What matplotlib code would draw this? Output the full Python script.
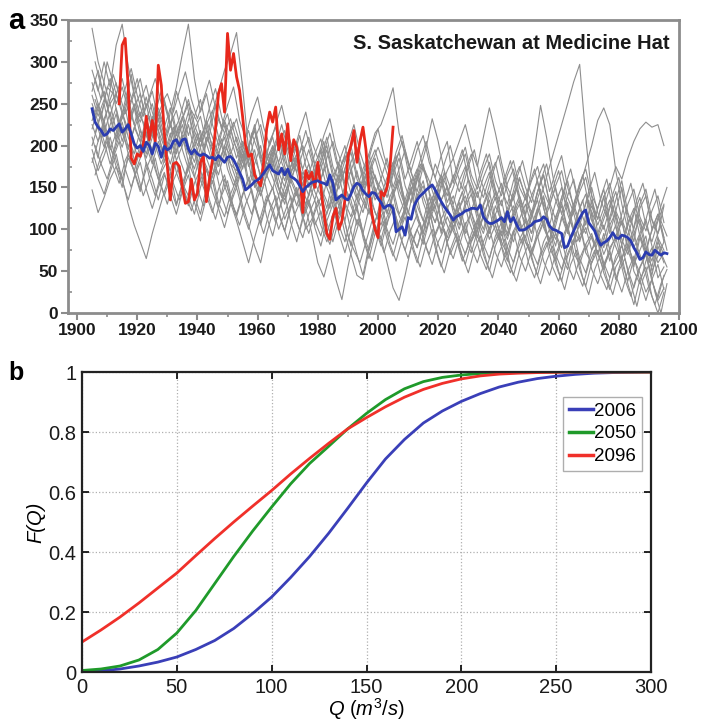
import numpy as np
import matplotlib
matplotlib.use("Agg")
import matplotlib.pyplot as plt
from matplotlib.ticker import MultipleLocator

plt.rcParams['font.family'] = ['Liberation Sans', 'DejaVu Sans']
plt.rcParams['mathtext.fontset'] = 'custom'
plt.rcParams['mathtext.rm'] = 'Liberation Sans'
plt.rcParams['mathtext.it'] = 'Liberation Sans:italic'

# ---------------- Panel a data ----------------
obs_years = list(range(1914, 2006))
obs_flow = [250, 320, 328, 270, 185, 178, 190, 187, 200, 235,
            207, 230, 205, 296, 272, 215, 175, 135, 178, 180,
            175, 150, 131, 133, 160, 135, 143, 180, 187, 133,
            160, 183, 220, 262, 274, 240, 334, 290, 310, 282,
            266, 235, 200, 187, 190, 165, 158, 152, 180, 220,
            240, 228, 246, 195, 214, 190, 226, 182, 207, 198,
            168, 120, 170, 160, 168, 150, 180, 150, 120, 95,
            88, 115, 125, 100, 110, 135, 187, 200, 218, 180,
            205, 222, 195, 145, 118, 100, 90, 145, 140, 150,
            175, 222]

mean_years = list(range(1905, 2097))
mean_flow = [244, 228, 222, 218, 212, 214, 220, 218, 222, 226,
             216, 220, 225, 214, 202, 197, 200, 193, 204, 200,
             190, 203, 199, 186, 199, 195, 197, 205, 207, 200,
             207, 208, 196, 190, 195, 190, 188, 190, 188, 185,
             186, 183, 188, 184, 180, 186, 187, 183, 176, 168,
             160, 147, 150, 153, 157, 159, 162, 167, 172, 177,
             170, 168, 166, 173, 165, 172, 163, 161, 158, 152,
             145, 150, 153, 156, 157, 158, 156, 155, 153, 165,
             155, 135, 138, 141, 137, 135, 142, 151, 155, 153,
             146, 142, 139, 144, 143, 137, 132, 125, 128, 129,
             125, 97, 100, 103, 93, 114, 112, 128, 135, 140,
             143, 147, 150, 153, 147, 140, 133, 127, 122, 117,
             111, 115, 117, 119, 122, 123, 125, 125, 124, 129,
             115, 110, 107, 107, 109, 111, 114, 109, 121, 109,
             114, 106, 99, 99, 100, 103, 105, 109, 110, 111,
             115, 112, 104, 100, 99, 97, 95, 78, 80, 90,
             98, 106, 113, 120, 123, 108, 103, 98, 88, 81,
             84, 86, 90, 96, 90, 89, 93, 92, 90, 86,
             78, 72, 64, 66, 73, 70, 69, 75, 72, 69,
             72, 71]

# ensemble members sampled on odd years
odd_years = list(range(1905, 2096, 2))
ens_01 = [340, 300, 275, 250, 262, 238, 270, 245, 228, 250, 215, 232,
          205, 228, 190, 215, 240, 205, 182, 210, 195, 175, 200, 188,
          165, 190, 150, 172, 140, 165, 185, 150, 130, 162, 145, 120,
          140, 168, 150, 125, 160, 132, 110, 145, 170, 138, 118, 150,
          130, 105, 142, 160, 125, 150, 118, 95, 130, 145, 112, 128,
          100, 125, 140, 112, 90, 118, 135, 105, 85, 115, 128, 98,
          110, 85, 120, 140, 102, 80, 115, 95, 130, 108, 75, 92,
          70, 95, 62, 88, 110, 75, 55, 90, 68, 45, 80, 60]
ens_02 = [147, 120, 138, 160, 175, 150, 190, 168, 145, 180, 160, 135,
          165, 150, 128, 155, 140, 118, 150, 172, 145, 125, 160, 138,
          115, 140, 162, 130, 108, 135, 150, 118, 98, 128, 145, 112,
          130, 105, 122, 95, 118, 140, 108, 80, 112, 95, 125, 100,
          88, 115, 130, 100, 122, 95, 78, 105, 125, 92, 110, 85,
          102, 120, 90, 72, 98, 115, 88, 105, 80, 62, 95, 110,
          85, 70, 98, 115, 80, 95, 68, 52, 88, 105, 72, 60,
          85, 55, 72, 40, 65, 90, 50, 35, 62, 78, 42, 55]
ens_03 = [290, 265, 300, 270, 320, 345, 295, 260, 280, 245, 265, 230,
          250, 222, 265, 240, 212, 235, 255, 220, 200, 232, 215, 190,
          210, 185, 200, 225, 190, 172, 198, 180, 205, 168, 185, 160,
          178, 150, 172, 195, 162, 180, 148, 170, 190, 158, 175, 142,
          160, 185, 150, 172, 195, 168, 145, 175, 158, 135, 165, 150,
          130, 158, 175, 142, 120, 150, 168, 135, 155, 120, 140, 162,
          138, 115, 145, 165, 130, 150, 118, 140, 160, 125, 105, 135,
          112, 140, 95, 122, 150, 110, 85, 125, 140, 100, 118, 90]
ens_04 = [230, 250, 215, 240, 205, 228, 198, 220, 240, 212, 195, 225,
          205, 240, 270, 310, 345, 280, 240, 262, 225, 200, 230, 210,
          185, 205, 175, 195, 160, 182, 200, 168, 150, 175, 190, 160,
          140, 165, 178, 150, 130, 155, 170, 142, 125, 150, 165, 135,
          148, 120, 140, 158, 130, 112, 138, 152, 125, 108, 135, 150,
          120, 100, 128, 142, 112, 95, 120, 138, 105, 88, 115, 130,
          100, 122, 90, 108, 128, 95, 78, 105, 120, 88, 102, 75,
          95, 70, 88, 105, 65, 82, 58, 75, 92, 50, 68, 85]
ens_05 = [200, 225, 250, 215, 238, 205, 228, 250, 220, 198, 235, 210,
          190, 215, 182, 200, 225, 195, 170, 205, 240, 265, 290, 310,
          335, 270, 195, 150, 165, 180, 162, 140, 172, 150, 128, 155,
          170, 145, 128, 158, 140, 118, 150, 135, 105, 130, 148, 120,
          105, 130, 148, 118, 135, 160, 128, 110, 138, 120, 98, 125,
          140, 115, 95, 122, 145, 118, 100, 128, 110, 92, 118, 135,
          112, 95, 125, 105, 88, 115, 132, 100, 82, 110, 95, 120,
          88, 105, 75, 92, 110, 80, 62, 95, 72, 55, 85, 70]
ens_06 = [210, 185, 230, 200, 175, 160, 130, 105, 85, 65, 95, 120,
          145, 168, 130, 155, 175, 140, 118, 150, 165, 132, 115, 142,
          160, 128, 105, 80, 60, 95, 120, 140, 112, 130, 150, 118,
          135, 110, 92, 120, 138, 105, 85, 112, 128, 95, 75, 105,
          90, 60, 30, 15, 45, 78, 100, 82, 110, 128, 95, 115,
          98, 80, 105, 120, 92, 75, 100, 118, 85, 70, 98, 112,
          85, 68, 92, 110, 78, 62, 88, 105, 72, 58, 82, 95,
          70, 52, 78, 90, 60, 38, 65, 48, 25, 40, 15, 30]
ens_07 = [260, 235, 255, 280, 250, 270, 242, 262, 235, 258, 228, 245,
          222, 245, 212, 232, 255, 225, 205, 230, 210, 188, 215, 232,
          205, 180, 198, 220, 188, 170, 195, 215, 182, 165, 190, 172,
          195, 168, 185, 210, 175, 158, 182, 200, 165, 150, 178, 195,
          170, 150, 175, 192, 160, 182, 205, 172, 150, 178, 160, 140,
          165, 145, 170, 190, 155, 138, 162, 180, 148, 130, 158, 175,
          150, 132, 160, 178, 145, 168, 188, 150, 128, 155, 172, 140,
          125, 148, 110, 135, 158, 120, 100, 130, 148, 112, 95, 128]
ens_08 = [180, 205, 225, 195, 215, 240, 210, 190, 218, 200, 178, 205,
          188, 170, 195, 212, 180, 162, 190, 175, 155, 182, 198, 168,
          150, 175, 192, 158, 140, 165, 182, 150, 135, 160, 178, 145,
          130, 155, 140, 118, 145, 165, 132, 115, 140, 158, 125, 108,
          135, 150, 118, 100, 128, 145, 112, 95, 122, 140, 108, 90,
          115, 132, 100, 85, 110, 128, 95, 118, 135, 102, 85, 112,
          130, 105, 125, 150, 175, 200, 225, 250, 276, 297, 210, 140,
          95, 78, 105, 120, 88, 70, 95, 112, 80, 62, 90, 75]
ens_09 = [240, 220, 198, 225, 245, 215, 195, 222, 205, 185, 210, 232,
          200, 178, 205, 225, 192, 172, 198, 218, 185, 165, 192, 178,
          170, 195, 158, 178, 200, 165, 148, 175, 190, 158, 140, 168,
          155, 135, 160, 178, 145, 128, 152, 170, 138, 120, 148, 165,
          140, 118, 145, 165, 132, 112, 140, 158, 125, 108, 135, 152,
          128, 105, 132, 150, 118, 100, 125, 145, 112, 95, 122, 140,
          115, 95, 120, 138, 105, 88, 112, 132, 100, 85, 110, 128,
          105, 125, 150, 175, 160, 185, 205, 220, 228, 222, 225, 200]
ens_10 = [195, 170, 188, 210, 182, 160, 185, 170, 148, 172, 190, 160,
          140, 162, 180, 150, 128, 155, 172, 140, 120, 148, 165, 135,
          118, 142, 160, 128, 105, 132, 150, 120, 98, 125, 145, 115,
          95, 120, 138, 108, 85, 112, 130, 98, 70, 45, 80, 110,
          125, 100, 82, 108, 125, 95, 78, 105, 122, 92, 72, 98,
          115, 88, 70, 95, 112, 82, 65, 92, 108, 78, 60, 88,
          102, 75, 58, 85, 100, 70, 52, 80, 95, 65, 48, 75,
          88, 60, 42, 68, 80, 52, 30, 55, 70, 38, 18, 45]
ens_11 = [275, 250, 228, 255, 275, 240, 218, 245, 262, 230, 210, 238,
          255, 225, 205, 232, 250, 218, 198, 225, 242, 210, 190, 215,
          232, 200, 182, 208, 225, 192, 175, 200, 218, 185, 168, 192,
          210, 178, 160, 185, 205, 172, 155, 180, 198, 165, 190, 215,
          225, 245, 269, 215, 190, 170, 195, 212, 180, 162, 188, 205,
          155, 180, 198, 165, 148, 172, 190, 158, 140, 165, 182, 150,
          135, 158, 175, 145, 128, 152, 170, 138, 120, 145, 162, 130,
          112, 138, 155, 122, 105, 130, 148, 115, 98, 122, 140, 108]
ens_12 = [185, 160, 142, 168, 190, 158, 135, 162, 180, 148, 125, 150,
          168, 140, 118, 145, 165, 132, 110, 138, 158, 125, 102, 130,
          150, 122, 100, 128, 148, 115, 92, 122, 142, 108, 85, 115,
          135, 102, 80, 110, 130, 95, 72, 100, 125, 90, 65, 95,
          118, 88, 68, 95, 115, 82, 60, 90, 110, 78, 55, 85,
          105, 78, 58, 85, 100, 70, 50, 80, 98, 65, 45, 72,
          92, 65, 45, 72, 88, 58, 38, 68, 85, 52, 32, 60,
          75, 48, 28, 55, 68, 35, 10, 40, 55, 20, 0, 25]
ens_13 = [220, 245, 265, 232, 210, 238, 258, 225, 205, 232, 250, 218,
          198, 225, 242, 210, 190, 218, 235, 202, 180, 208, 228, 195,
          175, 200, 218, 185, 165, 192, 210, 178, 158, 185, 205, 170,
          150, 178, 195, 162, 142, 170, 188, 155, 135, 162, 182, 148,
          128, 155, 172, 140, 120, 148, 165, 132, 112, 140, 158, 125,
          108, 135, 152, 120, 100, 128, 145, 112, 92, 120, 138, 105,
          90, 118, 135, 102, 85, 110, 128, 98, 125, 150, 175, 200,
          230, 245, 225, 170, 130, 100, 78, 95, 112, 80, 60, 72]
ens_14 = [250, 228, 205, 178, 200, 222, 190, 170, 195, 215, 182, 160,
          182, 200, 168, 148, 175, 192, 160, 140, 165, 185, 152, 132,
          110, 85, 60, 90, 115, 140, 125, 100, 120, 140, 108, 90,
          118, 135, 105, 85, 110, 128, 95, 70, 45, 40, 75, 102,
          80, 108, 125, 95, 75, 100, 118, 88, 70, 95, 112, 82,
          65, 90, 108, 78, 60, 85, 102, 72, 55, 80, 98, 68,
          50, 75, 92, 62, 45, 70, 88, 58, 40, 65, 82, 52,
          35, 58, 75, 45, 25, 50, 68, 38, 15, 40, 58, 28]
ens_15 = [265, 290, 258, 235, 262, 280, 248, 225, 252, 272, 240, 218,
          180, 205, 225, 195, 172, 200, 218, 185, 165, 192, 210, 178,
          158, 182, 200, 168, 148, 175, 192, 160, 140, 168, 185, 152,
          165, 190, 208, 175, 155, 180, 200, 168, 148, 172, 190, 160,
          140, 162, 180, 148, 128, 155, 172, 140, 120, 148, 165, 132,
          150, 172, 190, 158, 138, 162, 180, 148, 128, 155, 172, 140,
          118, 140, 158, 125, 105, 132, 150, 118, 98, 125, 142, 110,
          95, 118, 135, 102, 82, 108, 125, 92, 72, 100, 118, 85]
ens_16 = [225, 205, 232, 250, 218, 198, 225, 245, 212, 190, 218, 238,
          212, 190, 215, 235, 200, 180, 208, 228, 195, 175, 200, 220,
          195, 172, 198, 218, 185, 162, 188, 210, 175, 155, 182, 200,
          178, 155, 180, 200, 168, 148, 172, 192, 160, 140, 165, 185,
          160, 138, 165, 185, 152, 132, 158, 178, 145, 125, 150, 170,
          185, 205, 225, 195, 175, 210, 245, 215, 180, 150, 135, 160,
          140, 120, 145, 165, 132, 112, 138, 158, 125, 105, 130, 150,
          120, 100, 125, 145, 112, 92, 118, 138, 105, 85, 110, 130]

# ensemble members sampled on even years
even_years = list(range(1906, 2097, 2))
ens_17 = [255, 232, 270, 262, 225, 240, 285, 240, 228, 205, 250, 230,
          215, 235, 198, 218, 242, 228, 195, 212, 250, 220, 238, 205,
          190, 172, 215, 195, 168, 205, 222, 180, 160, 188, 212, 175,
          162, 180, 205, 150, 138, 178, 192, 158, 140, 125, 170, 155,
          142, 160, 188, 148, 118, 150, 178, 165, 122, 140, 168, 132,
          118, 135, 160, 142, 104, 125, 158, 130, 98, 132, 150, 115,
          102, 125, 148, 108, 90, 118, 145, 110, 85, 100, 135, 96,
          78, 100, 128, 95, 68, 88, 118, 90, 60, 85, 105, 75]
ens_18 = [300, 270, 248, 285, 262, 238, 255, 280, 245, 220, 240, 265,
          240, 215, 232, 258, 225, 200, 218, 245, 268, 235, 210, 228,
          205, 185, 210, 232, 198, 178, 200, 225, 195, 172, 192, 218,
          188, 165, 192, 215, 182, 160, 185, 208, 175, 152, 180, 198,
          178, 155, 182, 205, 170, 148, 172, 198, 232, 205, 170, 150,
          172, 195, 160, 140, 168, 190, 158, 132, 160, 182, 148, 128,
          150, 172, 140, 122, 148, 170, 135, 118, 142, 165, 130, 112,
          138, 160, 125, 105, 132, 155, 120, 98, 125, 148, 110, 92]
ens_19 = [165, 188, 205, 175, 155, 182, 198, 168, 140, 160, 185, 152,
          130, 158, 175, 142, 122, 148, 168, 135, 112, 140, 158, 125,
          105, 130, 148, 118, 95, 122, 140, 108, 88, 115, 132, 100,
          112, 135, 100, 82, 108, 125, 92, 75, 60, 85, 110, 95,
          72, 98, 115, 85, 65, 92, 108, 78, 58, 85, 100, 70,
          88, 62, 80, 98, 70, 52, 78, 95, 65, 48, 72, 90,
          60, 42, 68, 85, 55, 38, 62, 80, 50, 32, 58, 75,
          45, 28, 55, 70, 40, 20, 45, 62, 30, 10, 35, 52]
ens_20 = [215, 240, 205, 190, 222, 245, 210, 188, 215, 235, 200, 178,
          198, 222, 185, 165, 195, 215, 180, 160, 188, 208, 172, 152,
          175, 198, 162, 145, 172, 192, 158, 138, 165, 185, 150, 130,
          155, 178, 142, 125, 152, 172, 138, 118, 145, 165, 130, 112,
          138, 160, 125, 108, 135, 155, 122, 100, 128, 148, 115, 95,
          125, 145, 112, 92, 120, 140, 108, 88, 115, 135, 100, 82,
          150, 195, 248, 210, 165, 130, 108, 88, 115, 135, 98, 80,
          102, 122, 88, 70, 95, 115, 80, 60, 88, 108, 72, 55]
ens_21 = [280, 255, 300, 275, 248, 268, 292, 260, 235, 258, 280, 250,
          262, 240, 265, 288, 255, 232, 255, 278, 245, 222, 248, 270,
          230, 210, 238, 258, 222, 200, 225, 248, 215, 192, 218, 240,
          205, 185, 212, 232, 198, 178, 202, 225, 192, 170, 198, 220,
          188, 165, 192, 212, 178, 158, 182, 205, 172, 150, 178, 200,
          170, 148, 175, 195, 160, 140, 165, 188, 155, 132, 160, 182,
          152, 130, 158, 178, 145, 125, 150, 172, 140, 118, 145, 168,
          135, 115, 142, 162, 128, 108, 135, 155, 122, 100, 128, 150]
ens_22 = [200, 178, 160, 185, 205, 172, 150, 175, 195, 162, 140, 168,
          182, 155, 135, 162, 180, 148, 128, 155, 172, 140, 118, 145,
          165, 138, 118, 145, 162, 130, 108, 135, 152, 120, 98, 125,
          95, 60, 43, 70, 40, 16, 55, 88, 112, 80, 62, 90,
          110, 82, 62, 88, 105, 75, 55, 82, 100, 68, 48, 75,
          95, 68, 48, 75, 92, 62, 42, 70, 88, 55, 38, 65,
          82, 55, 35, 62, 80, 50, 28, 58, 75, 42, 22, 52,
          70, 42, 22, 50, 65, 35, 8, 40, 58, 25, 0, 35]

ensemble_odd = [ens_01, ens_02, ens_03, ens_04, ens_05, ens_06, ens_07, ens_08,
                ens_09, ens_10, ens_11, ens_12, ens_13, ens_14, ens_15, ens_16]
ensemble_even = [ens_17, ens_18, ens_19, ens_20, ens_21, ens_22]

panel_a_title = "S. Saskatchewan at Medicine Hat"

# ---------------- Panel b data ----------------
q_values = list(range(0, 301, 10))
cdf_2006 = [0.000, 0.004, 0.010, 0.020, 0.033, 0.050, 0.075, 0.105, 0.145, 0.195,
            0.250, 0.315, 0.385, 0.462, 0.545, 0.630, 0.710, 0.775, 0.830, 0.870,
            0.902, 0.928, 0.950, 0.966, 0.978, 0.986, 0.992, 0.996, 0.998, 0.999, 1.000]
cdf_2050 = [0.005, 0.010, 0.020, 0.040, 0.075, 0.130, 0.205, 0.295, 0.385, 0.470,
            0.550, 0.627, 0.695, 0.752, 0.810, 0.862, 0.908, 0.944, 0.968, 0.982,
            0.990, 0.995, 0.998, 0.999, 1.000, 1.000, 1.000, 1.000, 1.000, 1.000, 1.000]
cdf_2096 = [0.100, 0.140, 0.183, 0.230, 0.280, 0.330, 0.388, 0.445, 0.500, 0.553,
            0.605, 0.660, 0.712, 0.762, 0.810, 0.848, 0.884, 0.916, 0.942, 0.962,
            0.977, 0.987, 0.993, 0.996, 0.998, 0.999, 1.000, 1.000, 1.000, 1.000, 1.000]
cdf_labels = ["2006", "2050", "2096"]
cdf_colors = ["#3a3fb8", "#1f9a2a", "#f0302a"]

# ---------------- Figure ----------------
fig = plt.figure(figsize=(7.01, 7.24), dpi=100)

# Panel a
axa = fig.add_axes([68/701, 1-313/724, (679-68)/701, (313-20)/724])
for ser in ensemble_odd:
    axa.plot(odd_years, ser, color="#8e8e8e", lw=0.8, zorder=2)
for ser in ensemble_even:
    axa.plot(even_years, ser, color="#8e8e8e", lw=0.8, zorder=2)
axa.plot(obs_years, obs_flow, color="#e8281c", lw=2.0, zorder=3)
axa.plot(mean_years, mean_flow, color="#2b3cb0", lw=2.0, zorder=4)
axa.set_xlim(1897, 2100)
axa.set_ylim(0, 350)
axa.xaxis.set_major_locator(MultipleLocator(20))
axa.xaxis.set_minor_locator(MultipleLocator(10))
axa.yaxis.set_major_locator(MultipleLocator(50))
axa.yaxis.set_minor_locator(MultipleLocator(25))
for sp in axa.spines.values():
    sp.set_color("#8c8c8c")
    sp.set_linewidth(2.0)
axa.tick_params(axis="both", which="major", direction="out", length=5, width=1.5,
                color="#8c8c8c", labelsize=12.5, labelcolor="#1a1a1a", pad=2)
axa.tick_params(axis="x", which="minor", direction="out", length=3, width=1.2, color="#8c8c8c")
axa.tick_params(axis="y", which="minor", direction="in", length=3, width=1.2, color="#8c8c8c")
for lab in axa.get_xticklabels() + axa.get_yticklabels():
    lab.set_fontweight("bold")
axa.text(0.985, 0.92, panel_a_title, transform=axa.transAxes, ha="right", va="center",
         fontsize=14.5, fontweight="bold", color="#1a1a1a")

# Panel b
axb = fig.add_axes([82/701, 1-672/724, (651-82)/701, (672-372)/724])
for vals, lab, col in zip([cdf_2006, cdf_2050, cdf_2096], cdf_labels, cdf_colors):
    axb.plot(q_values, vals, color=col, lw=2.0, label=lab)
axb.set_xlim(0, 300)
axb.set_ylim(0, 1)
axb.xaxis.set_major_locator(MultipleLocator(50))
axb.set_yticks([0, 0.2, 0.4, 0.6, 0.8, 1.0])
axb.set_yticklabels(["0", "0.2", "0.4", "0.6", "0.8", "1"])
axb.grid(True, linestyle=":", color="#b0b0b0", lw=0.9)
for sp in axb.spines.values():
    sp.set_color("#222222")
    sp.set_linewidth(1.6)
axb.tick_params(axis="both", which="major", direction="in", length=5, width=1.2,
                top=True, right=True, labelsize=14.5, labelcolor="#1a1a1a", pad=4)
axb.set_xlabel(r"$Q\ (m^3/s)$", fontsize=14.5, labelpad=0)
axb.set_ylabel("F(Q)", fontsize=14.5, fontstyle="italic", labelpad=2)
leg = axb.legend(loc="upper right", bbox_to_anchor=(0.984, 0.917), fontsize=13.5,
                 frameon=True, fancybox=False, edgecolor="#9a9a9a", handlelength=1.3,
                 handletextpad=0.05, borderpad=0.3, labelspacing=0.3, borderaxespad=0.0)
leg.get_frame().set_linewidth(1.0)
for ln in leg.get_lines():
    ln.set_linewidth(2.5)

fig.text(8/701, 1-21/724, "a", fontsize=21, fontweight="bold", ha="left", va="center")
fig.text(8/701, 1-373/724, "b", fontsize=18, fontweight="bold", ha="left", va="center")

fig.savefig("out.png", dpi=100)
